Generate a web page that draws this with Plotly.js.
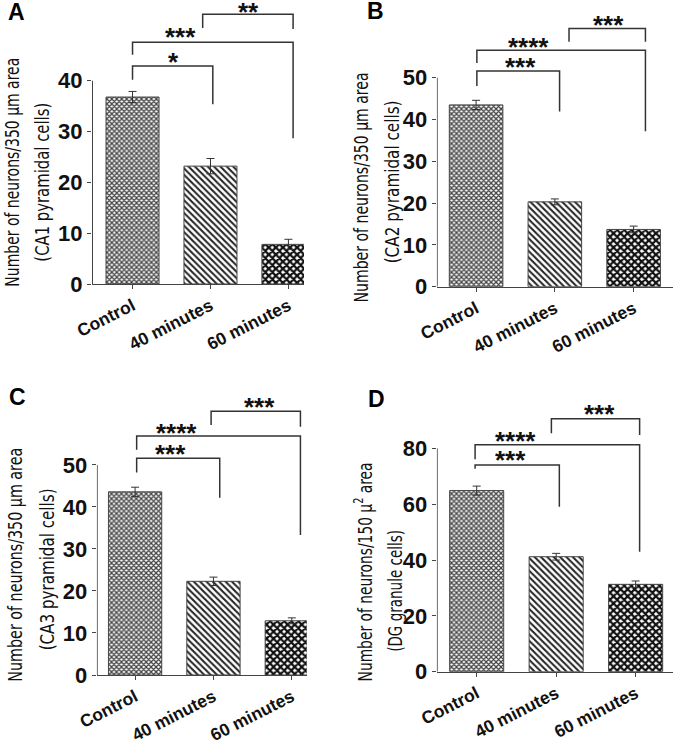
<!DOCTYPE html>
<html><head><meta charset="utf-8">
<script src="https://cdn.plot.ly/plotly-3.0.1.min.js"></script>
<style>body{margin:0;background:#fff}</style>
</head><body><div id="chart" style="width:677px;height:743px"></div>
<script>
// ---------- data ----------
const categories = ['Control', '40 minutes', '60 minutes'];
const valuesA = [36.8, 23.2, 7.8];
const errorsA = [1.1, 1.5, 1.0];
const valuesB = [43.5, 20.3, 13.7];
const errorsB = [1.1, 0.7, 0.8];
const valuesC = [43.6, 22.3, 12.9];
const errorsC = [1.1, 1.0, 0.7];
const valuesD = [64.9, 41.2, 31.3];
const errorsD = [1.6, 1.2, 1.2];
const yTicksA = [0, 10, 20, 30, 40];
const yTicksB = [0, 10, 20, 30, 40, 50];
const yTicksC = [0, 10, 20, 30, 40, 50];
const yTicksD = [0, 20, 40, 60, 80];
const titlesY = [
  ['Number of neurons/350 µm area', '(CA1 pyramidal cells)'],
  ['Number of neurons/350 µm area', '(CA2 pyramidal cells)'],
  ['Number of neurons/350 µm area', '(CA3 pyramidal cells)'],
  ['Number of neurons/150 µ<sup>2</sup> area', '(DG granule cells)']
];
const panelLabels = ['A', 'B', 'C', 'D'];
// significance labels per panel: [Control vs 40, Control vs 60, 40 vs 60]
const sigA = ['*', '***', '**'];
const sigB = ['***', '****', '***'];
const sigC = ['***', '****', '***'];
const sigD = ['***', '****', '***'];

// ---------- layout geometry (pixels / axis units) ----------
const W = 677, H = 743;
const panels = [
  {vals: valuesA, errs: errorsA, ticks: yTicksA, sig: sigA,
   xpx: [92, 304], ypx: [0, 284], xr: [-0.52, 2.2], yr: [0, 55.9],
   br: [{x0: 0, x1: 1.03, y: 42.9, yl: 40.2, yr: 35.4, tx: 0.53, ty: 44.5},
        {x0: 0, x1: 2.06, y: 47.6, yl: 45.1, yr: 28.7, tx: 0.61, ty: 49.4},
        {x0: 0.9, x1: 2.06, y: 53.1, yl: 50.4, yr: 50.2, tx: 1.49, ty: 54.3}],
   title: [[12, 172.5, 229], [42, 182.5, 159]], label: [16, 12]},
  {vals: valuesB, errs: errorsB, ticks: yTicksB, sig: sigB,
   xpx: [436.7, 673], ypx: [0, 286.7], xr: [-0.5, 2.5], yr: [0, 68.6],
   br: [{x0: 0.01, x1: 1.06, y: 51.6, yl: 48.0, yr: 41.9, tx: 0.56, ty: 53.5},
        {x0: 0.01, x1: 2.15, y: 56.6, yl: 53.5, yr: 37.2, tx: 0.66, ty: 58.3},
        {x0: 1.18, x1: 2.15, y: 61.8, yl: 58.6, yr: 58.6, tx: 1.68, ty: 63.6}],
   title: [[360.7, 187, 230], [392.7, 181.5, 163]], label: [375, 11]},
  {vals: valuesC, errs: errorsC, ticks: yTicksC, sig: sigC,
   xpx: [96.7, 306.7], ypx: [370, 675], xr: [-0.49, 2.19], yr: [0, 72.6],
   br: [{x0: 0.02, x1: 1.08, y: 51.6, yl: 48.2, yr: 42.2, tx: 0.45, ty: 53.6},
        {x0: 0.02, x1: 2.11, y: 56.9, yl: 53.6, yr: 33.3, tx: 0.53, ty: 58.6},
        {x0: 0.97, x1: 2.11, y: 62.8, yl: 59.5, yr: 59.1, tx: 1.59, ty: 64.8}],
   title: [[15, 565, 234], [46.7, 569, 162]], label: [17, 397]},
  {vals: valuesD, errs: errorsD, ticks: yTicksD, sig: sigD,
   xpx: [436.7, 673], ypx: [370, 671.7], xr: [-0.503, 2.47], yr: [0, 108.1],
   br: [{x0: -0.02, x1: 1.04, y: 74.1, yl: 72.7, yr: 59.1, tx: 0.43, ty: 77.3},
        {x0: -0.02, x1: 2.05, y: 81.3, yl: 76.1, yr: 43.0, tx: 0.49, ty: 84.2},
        {x0: 0.94, x1: 2.05, y: 90.6, yl: 85.4, yr: 84.8, tx: 1.54, ty: 93.8}],
   title: [[363, 572.5, 219], [395, 591, 122]], label: [376, 399]}
];

const AX = '#444';
const tickFont = {family: 'Liberation Sans, Arial, sans-serif', size: 22, color: '#111', weight: 700};
const xtickFont = {family: 'Liberation Sans, Arial, sans-serif', size: 17.5, color: '#111', weight: 700};
const titleFont = {family: 'Liberation Sans Narrow, DejaVu Sans Condensed, Arial Narrow, Liberation Sans, sans-serif', size: 20, color: '#111'};

const traces = [];
const shapes = [];
const annotations = [];
const titleTargets = {}; // annotation index -> target text length (px)
const layout = {
  width: W, height: H, margin: {l: 0, r: 0, t: 0, b: 0},
  paper_bgcolor: '#fff', plot_bgcolor: 'rgba(0,0,0,0)', showlegend: false,
  shapes: shapes, annotations: annotations
};

panels.forEach((p, i) => {
  const n = i === 0 ? '' : String(i + 1);
  const xa = 'x' + n, ya = 'y' + n;
  const xs = categories.map((c, k) => k);
  traces.push({
    type: 'bar', x: xs, y: p.vals, xaxis: xa, yaxis: ya, width: 0.68,
    error_y: {type: 'data', array: p.errs, visible: true, color: '#333', thickness: 1, width: 4},
    marker: {
      color: 'white',
      line: {color: AX, width: 1},
      pattern: {shape: ['x', '\\', 'x'], size: [3.5, 4.5, 5], solidity: [0.6, 0.45, 0.7],
                fgcolor: ['#444', '#222', '#111'], bgcolor: 'white', fillmode: 'replace'}
    },
    hoverinfo: 'skip'
  });
  layout['xaxis' + n] = {
    domain: [p.xpx[0] / W, p.xpx[1] / W], range: p.xr, anchor: ya,
    tickvals: xs, ticktext: categories, tickangle: -27, tickfont: xtickFont,
    ticks: 'outside', ticklen: 4, tickcolor: AX, showline: true, linecolor: AX, linewidth: 1,
    showgrid: false, zeroline: false, fixedrange: true
  };
  layout['yaxis' + n] = {
    domain: [1 - p.ypx[1] / H, 1 - p.ypx[0] / H], range: p.yr, anchor: xa,
    tickvals: p.ticks, ticktext: p.ticks.map(String), tickfont: tickFont,
    ticks: 'outside', ticklen: 4, tickcolor: AX, showline: false,
    showgrid: false, zeroline: false, fixedrange: true
  };
  // y axis line only up to the last tick
  const eps = 0.5 * (p.xr[1] - p.xr[0]) / (p.xpx[1] - p.xpx[0]);
  shapes.push({type: 'line', xref: xa, yref: ya, x0: p.xr[0] + eps, x1: p.xr[0] + eps,
               y0: 0, y1: p.ticks[p.ticks.length - 1], line: {color: AX, width: 1}});
  // significance brackets
  p.br.forEach((b, k) => {
    shapes.push({type: 'path', xref: xa, yref: ya,
      path: `M ${b.x0} ${b.yl} L ${b.x0} ${b.y} L ${b.x1} ${b.y} L ${b.x1} ${b.yr}`,
      line: {color: '#333', width: 1.5}});
    annotations.push({xref: xa, yref: ya, x: b.tx, y: b.ty, text: p.sig[k], showarrow: false,
      xanchor: 'center', yanchor: 'middle', yshift: -4,
      font: {family: 'Liberation Sans, Arial, sans-serif', size: 26, color: '#111', weight: 700}});
  });
  // y axis title, one annotation per line
  titlesY[i].forEach((line, k) => {
    const t = p.title[k];
    titleTargets[annotations.length] = t[2];
    annotations.push({xref: 'paper', yref: 'paper', x: t[0] / W, y: 1 - t[1] / H,
      text: line, textangle: -90, showarrow: false, xanchor: 'center', yanchor: 'middle',
      font: titleFont});
  });
  // panel label
  annotations.push({xref: 'paper', yref: 'paper', x: p.label[0] / W, y: 1 - p.label[1] / H,
    text: panelLabels[i], showarrow: false, xanchor: 'center', yanchor: 'middle',
    font: {family: 'Liberation Sans, Arial, sans-serif', size: 23, color: '#000', weight: 700}});
});

const gd = document.getElementById('chart');
Plotly.newPlot(gd, traces, layout, {staticPlot: true, displayModeBar: false}).then(() => {
  // condense the y titles in their text direction to the width of the original
  // narrow typeface, scaling about each text's own centre
  gd.querySelectorAll('.annotation').forEach(g => {
    const idx = +g.getAttribute('data-index');
    const target = titleTargets[idx];
    if (!target) return;
    const txt = g.querySelector('text.annotation-text');
    if (!txt) return;
    const bb = txt.getBBox();
    const cx = bb.x + bb.width / 2;
    const s = target / bb.width;
    txt.setAttribute('transform', `translate(${cx},0) scale(${s},1) translate(${-cx},0)`);
  });
});
</script></body></html>
